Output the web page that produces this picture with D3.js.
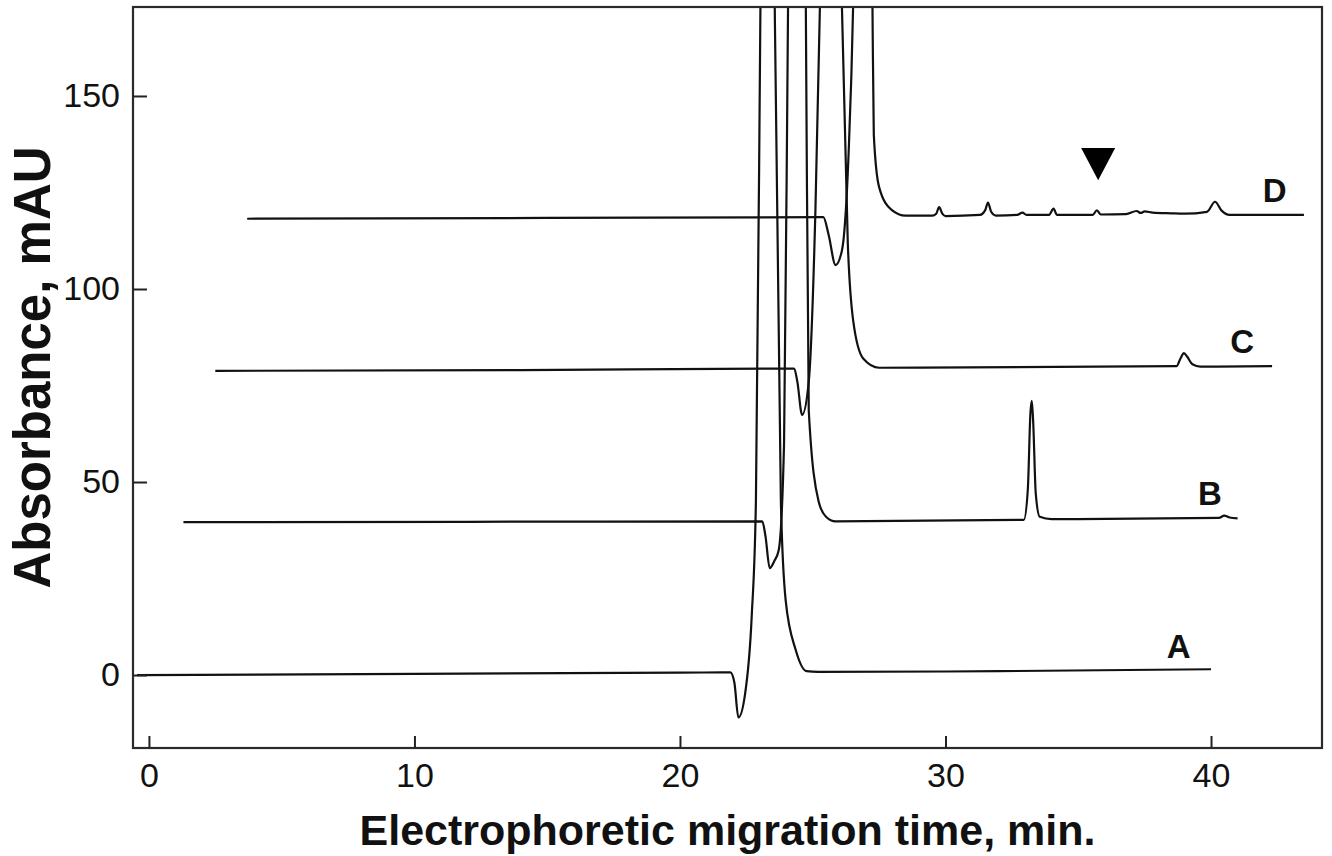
<!DOCTYPE html>
<html>
<head>
<meta charset="utf-8">
<script src="https://cdn.jsdelivr.net/npm/d3@7"></script>
<style>
  html, body { margin: 0; padding: 0; background: #fff; }
  svg { display: block; font-family: "Liberation Sans", Arial, Helvetica, sans-serif; }
</style>
</head>
<body>
<svg id="chart" width="1332" height="856"></svg>
<script>
// ---- data (time in min, absorbance in mAU) ----
const traceA = [
  [-0.45, 0.0], [10, 0.3], [20, 0.6], [21.9, 0.7], [22.05, -2], [22.2, -11], [22.45, -5],
  [22.7, 15], [22.86, 45], [23.03, 173], [23.3, 400], [23.57, 173], [23.8, 45],
  [23.98, 19.4], [24.36, 6.5], [24.77, 1.0], [25.2, 0.8], [32, 1.0], [40.0, 1.5]
];
const traceB = [
  [1.3, 39.6], [12, 39.7], [23.1, 39.8], [23.22, 36], [23.38, 27.7], [23.55, 29.5],
  [23.72, 32.4], [23.92, 60], [24.07, 173], [24.4, 400], [24.74, 173], [24.85, 68.6],
  [25.22, 45], [25.5, 41], [25.86, 39.8], [32.95, 40.2], [33.1, 48], [33.2, 68],
  [33.25, 71], [33.3, 66], [33.4, 47], [33.55, 41], [34.0, 40.4], [40.3, 40.7],
  [40.5, 41.3], [40.7, 40.8], [41.0, 40.6]
];
const traceC = [
  [2.5, 78.8], [14, 79.0], [24.3, 79.4], [24.42, 76], [24.6, 67.4], [24.85, 76],
  [25.1, 120], [25.27, 173], [25.68, 400], [26.1, 173], [26.32, 112], [26.52, 92],
  [26.9, 82], [27.5, 79.6], [38.7, 80.0], [38.85, 82], [38.98, 83.4], [39.1, 82.5],
  [39.3, 80.5], [39.6, 79.9], [42.3, 80.0]
];
const traceD = [
  [3.7, 118.2], [15, 118.4], [25.4, 118.6], [25.6, 114], [25.86, 106.2], [26.1, 110],
  [26.35, 135], [26.52, 173], [26.9, 400], [27.25, 173], [27.3, 140], [27.5, 126.4],
  [27.97, 120.5], [28.5, 119.0], [29.5, 119.0], [29.65, 119.5], [29.76, 121.2],
  [29.88, 119.5], [30.0, 118.9], [31.3, 119.2], [31.5, 120.5], [31.6, 122.4],
  [31.72, 120], [31.9, 119.0], [32.7, 119.2], [32.9, 119.8], [33.05, 119.2],
  [33.9, 119.2], [34.07, 120.8], [34.2, 119.2], [35.55, 119.2], [35.7, 120.4],
  [35.85, 119.3], [36.8, 119.4], [37.2, 120.2], [37.35, 119.7], [37.5, 120.1],
  [37.8, 119.8], [38.5, 119.6], [39.0, 119.5], [39.85, 120.0], [40.15, 122.6],
  [40.4, 120.3], [40.7, 119.2], [43.5, 119.2]
];
const traces = [traceA, traceB, traceC, traceD];
const traceLabels = ["A", "B", "C", "D"];
const labelTimes = [38.78, 39.96, 41.17, 42.4];
const labelValues = [4.4, 44.0, 83.4, 122.5];
const xTicks = [0, 10, 20, 30, 40];
const yTicks = [0, 50, 100, 150];
const markerTime = 35.75;      // ▼ arrow position
const markerTop = 136.5;
const markerTip = 128.2;
const xTitle = "Electrophoretic migration time, min.";
const yTitle = "Absorbance, mAU";

// ---- layout ----
const L = 133, R = 1322, T = 7, B = 748;
const svg = d3.select("#chart");

const x = d3.scaleLinear().domain([-0.6, 44.18]).range([L, R]);
const y = d3.scaleLinear().domain([-18.9, 173.05]).range([B, T]);

svg.append("defs").append("clipPath").attr("id", "plotclip")
  .append("rect").attr("x", L).attr("y", T).attr("width", R - L).attr("height", B - T);

// traces
const line = d3.line().x(d => x(d[0])).y(d => y(d[1])).curve(d3.curveMonotoneX);
const g = svg.append("g").attr("clip-path", "url(#plotclip)");
g.selectAll("path.trace").data(traces).join("path")
  .attr("class", "trace")
  .attr("d", line)
  .attr("fill", "none")
  .attr("stroke", "#111")
  .attr("stroke-width", 2.2)
  .attr("stroke-linejoin", "round");

// frame
svg.append("rect").attr("x", L).attr("y", T).attr("width", R - L).attr("height", B - T)
  .attr("fill", "none").attr("stroke", "#2a2a2a").attr("stroke-width", 2.2);

// axes (ticks inward)
const xAxis = d3.axisBottom(x).tickValues(xTicks).tickSizeInner(-12).tickSizeOuter(0).tickPadding(14);
const xg = svg.append("g").attr("transform", `translate(0,${B})`).call(xAxis);
xg.select(".domain").remove();
xg.selectAll(".tick line").attr("stroke", "#222").attr("stroke-width", 2);
xg.selectAll(".tick text").attr("font-size", 34).attr("fill", "#111")
  .attr("font-family", "'Liberation Sans', Arial, sans-serif").attr("dy", "0.71em").attr("y", 15);

const yAxis = d3.axisLeft(y).tickValues(yTicks).tickSizeInner(-14).tickSizeOuter(0).tickPadding(15);
const yg = svg.append("g").attr("transform", `translate(${L},0)`).call(yAxis);
yg.select(".domain").remove();
yg.selectAll(".tick line").attr("stroke", "#222").attr("stroke-width", 2);
yg.selectAll(".tick text").attr("font-size", 34).attr("fill", "#111")
  .attr("font-family", "'Liberation Sans', Arial, sans-serif").attr("x", -13);

// trace labels
svg.selectAll("text.lab").data(traceLabels).join("text")
  .attr("class", "lab")
  .attr("x", (d, i) => x(labelTimes[i]))
  .attr("y", (d, i) => y(labelValues[i]))
  .attr("text-anchor", "middle")
  .attr("font-size", 33).attr("font-weight", "bold").attr("fill", "#111")
  .text(d => d);

// ▼ marker
const mx = x(markerTime), my0 = y(markerTop), my1 = y(markerTip);
svg.append("path")
  .attr("d", `M${mx - 17},${my0}L${mx + 17},${my0}L${mx},${my1}Z`)
  .attr("fill", "#000");

// titles
svg.append("text")
  .attr("x", (L + R) / 2).attr("y", 845)
  .attr("text-anchor", "middle")
  .attr("font-size", 43).attr("font-weight", "bold").attr("fill", "#111")
  .text(xTitle);

svg.append("text")
  .attr("transform", `translate(50,${(T + B) / 2 - 10}) rotate(-90)`)
  .attr("text-anchor", "middle")
  .attr("font-size", 51).attr("font-weight", "bold").attr("fill", "#111")
  .text(yTitle);
</script>
</body>
</html>
